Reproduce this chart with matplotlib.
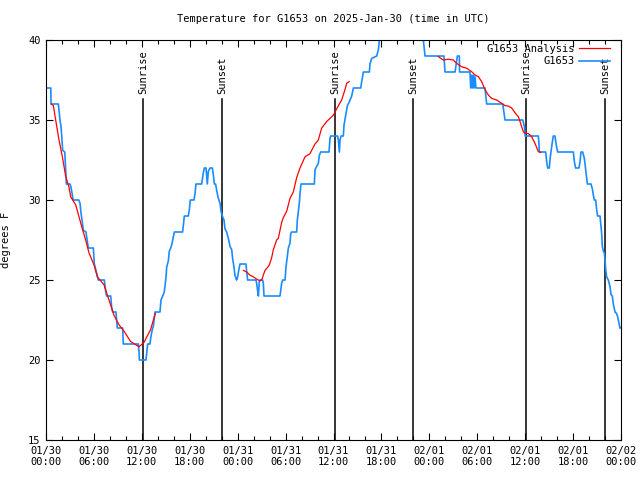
import matplotlib

matplotlib.use("Agg")
import matplotlib.pyplot as plt
import numpy as np
from matplotlib.ticker import MultipleLocator

RED, BLUE = "#ff0000", "#1a8cff"
plt.rcParams["font.family"] = ["DejaVu Sans Mono"]

# hours since 2025-01-30 00:00 UTC, temperatures in degrees F
obs_hours = [
    0.17, 0.6, 0.63, 1.55, 1.63, 1.75, 1.88, 1.96, 2.09, 2.35, 2.55, 3.0, 3.13, 3.3, 3.4,
    4.1, 4.26, 4.38, 4.55, 4.67, 5.01, 5.09, 5.3, 5.93, 6.05, 6.26, 6.55, 7.3, 7.47, 7.59,
    8.1, 8.22, 8.35, 8.76, 8.85, 8.93, 9.6, 9.68, 11.56, 11.65, 11.69, 12.52, 12.6, 12.73,
    13.02, 13.15, 13.31, 13.44, 13.65, 14.27, 14.4, 14.61, 14.78, 14.9, 15.03, 15.11, 15.32,
    15.44, 15.61, 15.74, 15.94, 16.07, 17.1, 17.2, 17.32, 17.82, 17.95, 18.07, 18.53, 18.66,
    18.78, 19.49, 19.7, 19.83, 20.04, 20.2, 20.33, 20.54, 20.83, 20.95, 21.08, 21.24, 21.37,
    21.58, 21.79, 21.91, 22.08, 22.29, 22.41, 22.62, 22.83, 23.04, 23.25, 23.37, 23.54, 23.66,
    23.79, 23.87, 24.0, 24.17, 24.29, 25.04, 25.13, 25.25, 26.29, 26.38, 26.5, 26.59, 26.71,
    26.79, 27.13, 27.21, 27.3, 29.3, 29.51, 29.64, 29.93, 30.05, 30.22, 30.35, 30.55, 30.64,
    30.76, 31.39, 31.47, 31.72, 31.81, 31.93, 33.6, 33.69, 34.1, 34.23, 34.4, 35.44, 35.56,
    35.65, 36.52, 36.61, 36.69, 36.73, 36.82, 36.94, 37.23, 37.32, 37.57, 37.74, 37.99, 38.28,
    38.49, 39.41, 39.53, 39.74, 40.49, 40.57, 40.78, 41.41, 41.62, 41.75, 43.0, 46.0, 47.25,
    47.46, 49.83, 49.96, 51.22, 51.51, 51.76, 51.78, 53.09, 53.18, 53.3, 53.38, 53.51, 53.59,
    53.72, 53.84, 54.97, 55.18, 57.19, 57.48, 59.7, 59.9, 60.0, 61.65, 61.73, 61.77, 62.57,
    62.69, 62.82, 63.02, 63.15, 63.31, 63.52, 63.73, 63.94, 64.07, 66.03, 66.16, 66.32, 66.74,
    66.87, 66.99, 67.2, 67.41, 67.58, 67.7, 67.79, 68.24, 68.41, 68.54, 68.66, 68.83, 68.95,
    69.07, 69.37, 69.49, 69.58, 69.66, 69.79, 69.91, 70.0, 70.08, 70.2, 70.41, 70.62, 70.75,
    70.91, 71.04, 71.25, 71.45, 71.58, 71.75, 71.87, 72.0,
]
obs_temps = [
    37, 37, 36, 36, 35.6, 35, 34.6, 34, 33.1, 33, 31, 31, 30.8, 30.3, 30,
    30, 29.8, 29.2, 28.6, 28.1, 28, 27.7, 27, 27, 26, 25.6, 25, 25, 24.3, 24,
    24, 23.3, 23, 23, 22.5, 22, 22, 21, 21, 20.5, 20, 20, 20.4, 21,
    21, 21.5, 21.9, 22.1, 23, 23, 23.75, 24, 24.2, 24.6, 25.2, 25.8, 26.2,
    26.8, 27, 27.2, 27.7, 28, 28, 28.4, 29, 29, 29.4, 30, 30, 30.4,
    31, 31, 31.7, 32, 32, 31, 31.8, 32, 32, 31.6, 31, 31, 30.6,
    30.1, 29.8, 29.3, 29, 28.75, 28.2, 28, 27.6, 27.1, 26.9, 26.35, 25.8, 25.3,
    25.1, 25, 25.2, 25.7, 26, 26, 25.5, 25, 25, 24.8, 24.3, 24, 24.9,
    25, 25, 24.8, 24, 24, 24.8, 25, 25, 25.8, 26.5, 27, 27.3, 27.9,
    28, 28, 28.75, 29.8, 30.4, 31, 31, 31.9, 32.3, 32.8, 33, 33, 33.85,
    34, 34, 33.75, 33.3, 33, 33.75, 34, 34, 34.7, 35.4, 35.9, 36.15, 36.5,
    37, 37, 37.4, 38, 38, 38.5, 38.85, 39, 39.4, 40, 42, 42, 40,
    39, 39, 38, 38, 39, 39, 38, 38, 37, 37.8, 37, 37.8, 37,
    37.7, 37, 37, 36, 36, 35, 35, 34.6, 34, 34, 33.5, 33, 33,
    32.4, 32, 32, 32.7, 33.3, 34, 34, 33.3, 33, 33, 32.4, 32, 32,
    32.4, 33, 33, 32.6, 31.9, 31.35, 31, 31, 30.7, 30.3, 30, 30, 29.4,
    29, 29, 28.4, 27.9, 27.1, 26.8, 26.7, 26.25, 25.7, 25.2, 25, 24.6, 24.1,
    24, 23.5, 23, 22.9, 22.7, 22.3, 22, 22,
]

# analysis series, three separate runs (nan breaks the line)
ana_hours = [
    0.67, 0.92, 1.21, 1.63, 2.05, 2.46, 2.88, 3.09, 3.72, 4.13, 4.55, 4.97, 5.38, 6.01, 6.43,
    7.26, 7.89, 8.51, 9.14, 9.77, 10.6, 11.65, 12.27, 13.1, 13.5, 13.7, np.nan,
    24.71, 25.13, 25.54, 25.96, 26.38, 26.8, 27.0, 27.42, 27.84, 27.97, 28.26, 28.47, 28.88,
    29.09, 29.51, 29.72, 30.14, 30.55, 30.97, 31.39, 31.81, 32.43, 33.06, 33.68, 34.1, 34.52,
    35.14, 35.56, 35.98, 36.4, 37.02, 37.44, 37.65, 37.98, np.nan,
    49.13, 49.75, 50.38, 51.0, 51.42, 52.05, 52.68, 53.3, 53.72, 54.14, 54.55, 54.97, 55.39,
    55.81, 56.43, 57.06, 57.48, 57.89, 58.31, 58.73, 59.15, 59.36, 59.56, 59.77, 59.98, 60.4,
    60.81, 61.23, 61.65, 61.94,
]
ana_temps = [
    36.0, 35.9, 35.0, 33.75, 32.7, 31.5, 30.8, 30.2, 29.7, 28.95, 28.2, 27.5, 26.7, 25.95, 25.2,
    24.7, 23.75, 22.8, 22.2, 21.8, 21.15, 20.83, 21.1, 21.9, 22.6, 22.9, np.nan,
    25.6, 25.5, 25.3, 25.2, 25.05, 24.95, 25.0, 25.6, 25.85, 25.95, 26.4, 26.9, 27.5,
    27.6, 28.6, 28.9, 29.3, 30.1, 30.5, 31.4, 32.0, 32.7, 32.9, 33.5, 33.75, 34.5,
    34.9, 35.1, 35.3, 35.7, 36.25, 36.9, 37.3, 37.4, np.nan,
    38.96, 38.75, 38.8, 38.75, 38.54, 38.33, 38.23, 38.02, 37.81, 37.71, 37.4, 36.9, 36.56,
    36.35, 36.25, 36.04, 35.9, 35.87, 35.75, 35.45, 35.2, 34.9, 34.58, 34.27, 34.17, 34.15,
    33.96, 33.54, 33.02, 32.98,
]

sun_hours = [12.18, 22.07, 36.25, 46.0, 60.15, 70.03]
sun_labels = ["Sunrise", "Sunset", "Sunrise", "Sunset", "Sunrise", "Sunset"]

tick_hours = list(range(0, 73, 6))
tick_labels = [
    "01/30\n00:00", "01/30\n06:00", "01/30\n12:00", "01/30\n18:00",
    "01/31\n00:00", "01/31\n06:00", "01/31\n12:00", "01/31\n18:00",
    "02/01\n00:00", "02/01\n06:00", "02/01\n12:00", "02/01\n18:00",
    "02/02\n00:00",
]

fig = plt.figure(figsize=(6.4, 4.8), dpi=100)
ax = fig.add_axes([46 / 640, 40 / 480, 575 / 640, 400 / 480])

for hour, label in zip(sun_hours, sun_labels):
    ax.plot([hour, hour], [15, 36.3], color="black", lw=1.1, zorder=1)
    ax.text(hour, 36.65, label, rotation=90, ha="center", va="bottom", fontsize=7.5)

ax.plot(ana_hours, ana_temps, color=RED, lw=0.9, label="G1653 Analysis", zorder=3)
ax.plot(obs_hours, obs_temps, color=BLUE, lw=1.2, label="G1653", zorder=2)

ax.set_xlim(0, 72)
ax.set_ylim(15, 40)
ax.set_xticks(tick_hours)
ax.set_xticklabels(tick_labels)
ax.xaxis.set_minor_locator(MultipleLocator(2))
ax.set_yticks(range(15, 41, 5))
ax.tick_params(which="both", direction="in", top=True, right=True, labelsize=7.5, width=0.8)
ax.tick_params(which="major", length=5, pad=4)
ax.tick_params(which="minor", length=3)
for spine in ax.spines.values():
    spine.set_linewidth(0.8)

ax.set_title("Temperature for G1653 on 2025-Jan-30 (time in UTC)", fontsize=7.5, pad=13)
ax.set_ylabel("degrees F", fontsize=7.5, labelpad=12)

ax.legend(loc="upper right", frameon=False, markerfirst=False, fontsize=7.5,
          handlelength=2.9, handletextpad=0.5, labelspacing=0.25,
          borderaxespad=0.3, bbox_to_anchor=(0.993, 1.009))

fig.savefig("out.png", dpi=100)
